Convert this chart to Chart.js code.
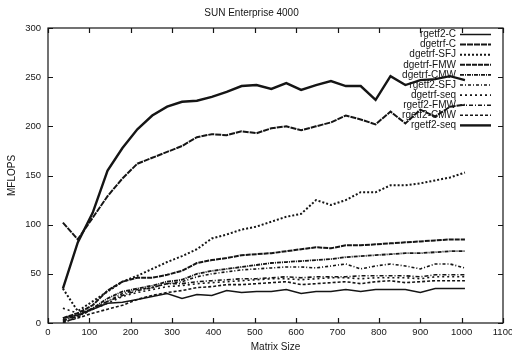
<!DOCTYPE html>
<html>
<head>
<meta charset="utf-8">
<script src="https://cdn.jsdelivr.net/npm/chart.js@4.4.1/dist/chart.umd.min.js"></script>
<style>
  html, body { margin: 0; padding: 0; background: #fff; }
  canvas { display: block; }
</style>
</head>
<body>
<canvas id="chart" width="512" height="354"></canvas>
<script>
// matrix sizes used by every run
const sizes = [36, 72, 108, 144, 180, 216, 252, 288, 324, 360, 396, 432, 468, 504,
               540, 576, 612, 648, 684, 720, 756, 792, 828, 864, 900, 936, 972, 1008];

// MFLOPS per series
const rgetf2C   = [5, 8, 14, 20, 21, 24, 27, 30, 25, 29, 28, 33, 31, 32, 32, 34, 30, 32, 32, 34, 32, 34, 34, 34, 31, 35, 35, 35];
const dgetrfC   = [102, 85, 107, 129, 147, 162, 168, 174, 180, 189, 192, 191, 195, 193, 198, 200, 196, 200, 204, 211, 207, 202, 215, 203, 217, 210, 220, 222];
const dgetrfSFJ = [35, 12, 22, 32, 42, 48, 55, 62, 68, 75, 86, 90, 95, 98, 103, 108, 111, 125, 120, 125, 133, 133, 140, 140, 142, 145, 148, 153];
const dgetrfFMW = [5, 10, 18, 33, 42, 46, 46, 49, 53, 61, 64, 66, 69, 70, 71, 73, 75, 77, 76, 79, 79, 80, 81, 82, 83, 84, 85, 85];
const dgetrfCMW = [3, 8, 15, 25, 32, 35, 38, 42, 44, 50, 53, 55, 57, 59, 61, 62, 63, 64, 65, 67, 68, 69, 70, 71, 71, 72, 73, 73];
const rgetf2SFJ = [0, 6, 14, 22, 30, 34, 36, 40, 42, 47, 50, 52, 54, 55, 56, 57, 57, 56, 58, 60, 55, 58, 60, 58, 55, 60, 60, 56];
const dgetrfSeq = [15, 10, 14, 20, 27, 31, 34, 37, 38, 40, 41, 42, 43, 44, 45, 45, 44, 45, 46, 46, 45, 46, 46, 46, 45, 47, 47, 47];
const rgetf2FMW = [2, 7, 15, 22, 28, 33, 36, 40, 40, 42, 43, 44, 45, 45, 46, 47, 46, 47, 47, 47, 48, 48, 48, 48, 47, 49, 49, 49];
const rgetf2CMW = [1, 5, 10, 14, 18, 24, 28, 31, 33, 36, 37, 39, 39, 40, 41, 42, 39, 40, 41, 42, 40, 42, 43, 41, 42, 43, 43, 43];
const rgetf2Seq = [35, 82, 112, 155, 178, 197, 211, 220, 225, 226, 230, 235, 241, 242, 238, 244, 237, 242, 246, 241, 241, 227, 251, 242, 247, 248, 251, 247];

const seriesNames = ['rgetf2-C', 'dgetrf-C', 'dgetrf-SFJ', 'dgetrf-FMW', 'dgetrf-CMW',
                     'rgetf2-SFJ', 'dgetrf-seq', 'rgetf2-FMW', 'rgetf2-CMW', 'rgetf2-seq'];
const seriesValues = [rgetf2C, dgetrfC, dgetrfSFJ, dgetrfFMW, dgetrfCMW,
                      rgetf2SFJ, dgetrfSeq, rgetf2FMW, rgetf2CMW, rgetf2Seq];

// gnuplot-like line styles
const widths = [1.5, 2, 2, 2, 1.8, 1.6, 1.6, 1.6, 1.6, 2.4];
const dashes = [[], [6, 1], [2, 2], [5, 1], [4, 1, 1, 1], [3, 2, 1, 2], [2, 3], [4, 2, 1, 2], [3, 2], []];
const ink = '#151515';
const fontFamily = '"Liberation Sans", Arial, Helvetica, sans-serif';

const datasets = seriesNames.map((name, i) => ({
    label: name,
    data: sizes.map((x, j) => ({ x: x, y: seriesValues[i][j] })),
    borderColor: ink,
    borderWidth: widths[i],
    borderDash: dashes[i],
    pointRadius: 0,
    tension: 0,
    fill: false
}));

// frame with inward ticks on all four sides, like gnuplot
const framePlugin = {
    id: 'frame',
    afterDatasetsDraw(chart) {
        const { ctx, chartArea: a, scales } = chart;
        ctx.save();
        ctx.strokeStyle = ink;
        ctx.lineWidth = 1.2;
        ctx.strokeRect(a.left, a.top, a.right - a.left, a.bottom - a.top);
        ctx.beginPath();
        scales.x.ticks.forEach(t => {
            const px = Math.round(scales.x.getPixelForValue(t.value)) + 0.5;
            ctx.moveTo(px, a.bottom); ctx.lineTo(px, a.bottom - 5);
            ctx.moveTo(px, a.top); ctx.lineTo(px, a.top + 5);
        });
        scales.y.ticks.forEach(t => {
            const py = Math.round(scales.y.getPixelForValue(t.value)) + 0.5;
            ctx.moveTo(a.left, py); ctx.lineTo(a.left + 5, py);
            ctx.moveTo(a.right, py); ctx.lineTo(a.right - 5, py);
        });
        ctx.stroke();
        ctx.restore();
    }
};

// legend in the top right corner: label right-aligned, line sample after it
const keyPlugin = {
    id: 'key',
    afterDatasetsDraw(chart) {
        const { ctx } = chart;
        ctx.save();
        ctx.font = '10px ' + fontFamily;
        ctx.textAlign = 'right';
        ctx.textBaseline = 'middle';
        ctx.fillStyle = ink;
        chart.data.datasets.forEach((ds, i) => {
            const y = 34.5 + i * 10.1;
            ctx.fillText(ds.label, 456, y);
            ctx.beginPath();
            ctx.setLineDash(ds.borderDash);
            ctx.lineWidth = ds.borderWidth;
            ctx.strokeStyle = ink;
            ctx.moveTo(460, y);
            ctx.lineTo(491, y);
            ctx.stroke();
        });
        ctx.restore();
    }
};

new Chart(document.getElementById('chart'), {
    type: 'line',
    data: { datasets: datasets },
    options: {
        responsive: false,
        animation: false,
        layout: { padding: { left: 0, right: 9, top: 0, bottom: 0 } },
        plugins: {
            legend: { display: false },
            tooltip: { enabled: false },
            title: {
                display: true,
                text: 'SUN Enterprise 4000',
                color: ink,
                font: { family: fontFamily, size: 10, weight: 'normal' },
                padding: { top: 7, bottom: 9 }
            }
        },
        scales: {
            x: {
                type: 'linear',
                min: 0,
                max: 1100,
                ticks: {
                    stepSize: 100,
                    color: ink,
                    padding: 4,
                    maxRotation: 0,
                    autoSkip: false,
                    font: { family: fontFamily, size: 9.5 },
                    callback: value => String(value)
                },
                grid: { display: false, drawTicks: false },
                border: { display: false },
                title: {
                    display: true,
                    text: 'Matrix Size',
                    color: ink,
                    font: { family: fontFamily, size: 10 },
                    padding: { top: 0, bottom: 1 }
                },
                afterFit(scale) {
                    scale.height = 31;
                    scale.paddingLeft = 0;
                    scale.paddingRight = 0;
                }
            },
            y: {
                min: 0,
                max: 300,
                ticks: {
                    stepSize: 50,
                    color: ink,
                    padding: 7,
                    font: { family: fontFamily, size: 9.5 },
                    callback: value => String(value)
                },
                grid: { display: false, drawTicks: false },
                border: { display: false },
                title: {
                    display: true,
                    text: 'MFLOPS',
                    color: ink,
                    font: { family: fontFamily, size: 10 },
                    padding: { top: 6, bottom: 0 }
                },
                afterFit(scale) {
                    scale.width = 48;
                }
            }
        }
    },
    plugins: [framePlugin, keyPlugin]
});
</script>
</body>
</html>
